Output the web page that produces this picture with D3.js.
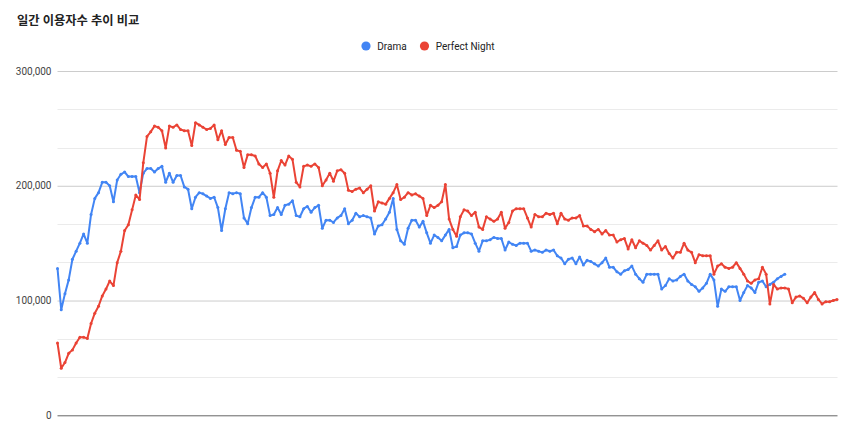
<!DOCTYPE html>
<html><head><meta charset="utf-8">
<script src="https://cdn.jsdelivr.net/npm/d3@7"></script>
<style>
html,body{margin:0;padding:0;background:#fff;}
svg{display:block;}
</style></head>
<body>
<svg id="chart" width="850" height="434"></svg>
<script>
const title = "일간 이용자수 추이 비교";
const seriesNames = ["Drama", "Perfect Night"];
const seriesColors = ["#4285f4", "#ea4335"];
const yTickValues = [0, 100000, 200000, 300000];
const yTickLabels = ["0", "100,000", "200,000", "300,000"];
const days = d3.range(1, 211);

// values in thousands of daily users
const dramaK = [
128,92,106,118,136,143,150,158,150,175,
189,194,203,203,200,186,205,210,212,208,
208,208,194,211,215,215,212,215,217,203,
211,203,209,209,199,197,180,190,194,193,
191,189,190,181,161,180,194,193,194,193,
172,167,181,190,190,194,190,174,175,181,
175,183,184,187,174,173,180,182,177,181,
183,163,170,170,168,172,174,180,167,170,
176,173,174,173,172,158,165,166,171,177,
189,162,152,149,163,170,170,164,169,159,
150,157,155,152,157,162,146,147,157,159,
159,158,150,143,152,152,153,155,154,154,
144,151,149,148,150,150,150,143,144,143,
142,144,143,144,139,137,132,136,137,132,
138,131,135,134,132,130,133,137,129,129,
125,123,126,127,130,123,119,116,123,123,
123,123,110,113,119,117,118,121,123,117,
114,112,108,111,115,123,118,95,110,108,
112,112,112,100,107,113,111,107,116,117,
112,114,116,119,121,123];
const perfectNightK = [
63,41,46,54,57,63,68,68,67,80,
89,95,104,110,117,113,133,143,161,166,
179,192,188,220,243,247,252,251,248,233,
252,251,253,249,248,248,235,255,253,251,
249,250,253,240,248,236,242,242,231,230,
216,227,227,226,219,216,219,211,190,213,
222,218,226,223,203,199,217,218,217,219,
216,200,205,211,204,213,214,211,196,195,
197,198,194,197,200,178,186,185,184,189,
194,201,188,190,194,192,193,191,189,174,
183,181,183,186,201,171,162,156,173,179,
178,174,177,164,162,173,171,169,171,177,
163,168,178,180,180,180,172,164,175,173,
173,176,175,176,167,176,171,170,172,172,
174,165,165,162,160,162,158,161,157,157,
151,153,154,145,153,146,152,150,148,144,
148,152,144,147,141,137,142,142,150,144,
142,133,140,139,139,139,123,130,132,129,
128,129,133,128,123,117,115,118,119,129,
123,97,114,110,111,111,110,98,103,104,
102,98,103,107,101,97,99,99,100,101];

const series = [dramaK, perfectNightK].map((arr, s) => ({
  name: seriesNames[s], color: seriesColors[s],
  values: arr.map((v, i) => ({day: days[i], value: v * 1000}))
}));

const svg = d3.select("#chart");
const plotLeft = 57.5, plotRight = 837.5, plotTop = 71, plotBottom = 415.3;
const x = d3.scaleLinear().domain([days[0], days[days.length - 1]]).range([plotLeft, plotRight - 0.5]);
const y = d3.scaleLinear().domain([0, 300000]).range([plotBottom, plotTop]);

// minor gridlines
const minor = d3.range(1, 9).filter(k => k % 3 !== 0).map(k => k * 100000 / 3);
svg.append("g").selectAll("line").data(minor).join("line")
  .attr("x1", plotLeft).attr("x2", plotRight)
  .attr("y1", d => Math.round(y(d)) + 0.5).attr("y2", d => Math.round(y(d)) + 0.5)
  .attr("stroke", "#ebebeb").attr("stroke-width", 1);

// major axis
const yAxis = d3.axisLeft(y).tickValues(yTickValues)
  .tickFormat((d, i) => yTickLabels[i]).tickSize(-(plotRight - plotLeft)).tickPadding(6);
const ag = svg.append("g").attr("transform", `translate(${plotLeft},0)`).call(yAxis);
ag.select(".domain").remove();
ag.selectAll(".tick line").attr("stroke", d => d === 0 ? "#666" : "#cccccc");
ag.selectAll(".tick text").attr("fill", "#444").attr("font-size", "10px")
  .attr("font-family", "Roboto, Arial, sans-serif").attr("x", -6);

// lines
const line = d3.line().x(d => x(d.day)).y(d => y(d.value));
const sg = svg.append("g").selectAll("g").data(series).join("g");
sg.append("path").attr("d", d => line(d.values)).attr("fill", "none")
  .attr("stroke", d => d.color).attr("stroke-width", 2).attr("stroke-linejoin", "round");
sg.each(function(s) {
  d3.select(this).selectAll("circle").data(s.values).join("circle")
    .attr("cx", d => x(d.day)).attr("cy", d => y(d.value)).attr("r", 1.5)
    .attr("fill", s.color);
});

// title
svg.append("text").attr("x", 17).attr("y", 25).text(title)
  .attr("font-family", "Roboto, 'Noto Sans CJK KR', sans-serif")
  .attr("font-size", "12.3px").attr("font-weight", "bold").attr("fill", "#222");

// legend
const legendX = [366, 424.5];
const lg = svg.append("g").selectAll("g").data(series).join("g")
  .attr("transform", (d, i) => `translate(${legendX[i]},46)`);
lg.append("circle").attr("r", 4.6).attr("fill", d => d.color);
lg.append("text").attr("x", 11.3).attr("y", 3.6).text(d => d.name)
  .attr("font-family", "Roboto, Arial, sans-serif").attr("font-size", "10px").attr("fill", "#222");
</script>
</body></html>
